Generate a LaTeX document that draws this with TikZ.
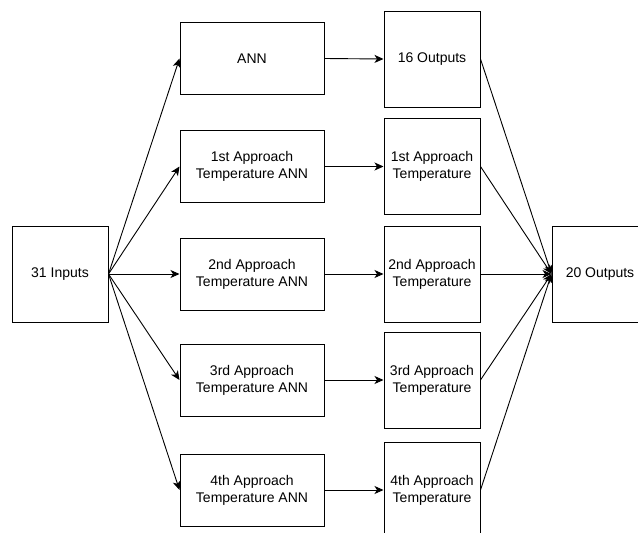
\documentclass[tikz,border=0pt]{standalone}
\usepackage{fontspec}
\setmainfont{Liberation Sans}
\usetikzlibrary{arrows.meta}

\tikzset{
  netbox/.style={draw, line width=1pt, minimum width=144pt, minimum height=72pt, align=center, inner sep=0pt},
  outbox/.style={draw, line width=1pt, minimum width=96pt, minimum height=96pt, align=center, inner sep=0pt},
  link/.style={-{Stealth[length=9pt,width=8pt,inset=2.5pt]}, line width=0.9pt}
}

\begin{document}
\begin{tikzpicture}[x=1pt,y=-1pt,font=\fontsize{14}{17}\selectfont]
        \useasboundingbox (0,0) rectangle (638,533);
        \clip (0,0) rectangle (638,533);

        % inputs and outputs
        \node[outbox] (in) at (60,274) {31 Inputs};
        \node[outbox] (res) at (600,274) {20 Outputs};

        % first row
        \node[netbox] (ann) at (252,58.5) {ANN};
        \node[outbox] (out) at (432,59) {16 Outputs};

        % temperature rows
        \foreach \y/\n/\t in {166.5/1/1st, 274/2/2nd, 380/3/3rd, 490/4/4th} {
            \node[netbox] (t\n) at (252,\y) {\t{} Approach\\Temperature ANN};
            \node[outbox] (p\n) at (432,\y) {\t{} Approach\\Temperature};
        }

        \draw[link] (in.east) -- (ann.west);
        \draw[link] (ann.east) -- (out.west);
        \draw[link] (out.east) -- (res.west);
        \foreach \n in {1,...,4} {
            \draw[link] (in.east) -- (t\n.west);
            \draw[link] (t\n.east) -- (p\n.west);
            \draw[link] (p\n.east) -- (res.west);
        }
    \end{tikzpicture}
\end{document}
